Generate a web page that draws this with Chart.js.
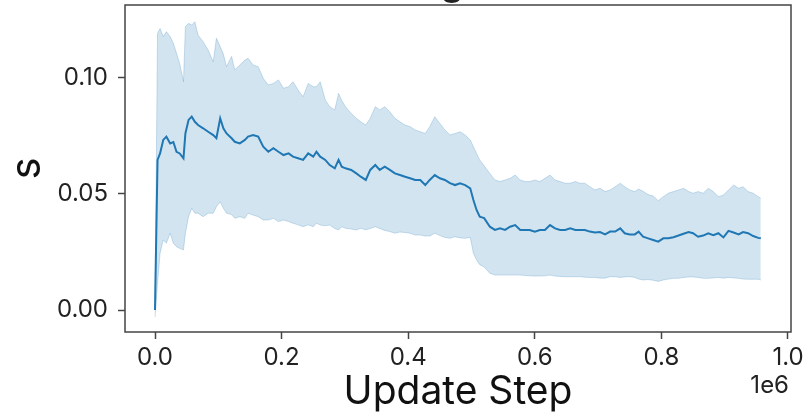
<!DOCTYPE html>
<html>
<head>
<meta charset="utf-8">
<script src="https://cdn.jsdelivr.net/npm/chart.js@4/dist/chart.umd.min.js"></script>
<style>
  html, body { margin: 0; padding: 0; background: #fff; }
  canvas { display: block; }
</style>
</head>
<body>
<canvas id="chart" width="809" height="418"></canvas>
<script>
// update steps (x) and the curves
const steps = [0, 4000, 8000, 13000, 18000, 24000, 29000, 34000, 39000, 45000,
  48000, 53000, 58000, 63000, 68000, 76000, 84000, 92000, 97000, 103000,
  108000, 113000, 121000, 126000, 134000, 142000, 147000, 155000, 163000, 171000,
  179000, 187000, 195000, 203000, 211000, 218000, 226000, 234000, 242000, 250000,
  255000, 261000, 269000, 276000, 284000, 290000, 295000, 301000, 310000, 318000,
  325000, 333000, 340000, 348000, 355000, 363000, 371000, 379000, 387000, 395000,
  403000, 411000, 419000, 427000, 434000, 442000, 450000, 458000, 466000, 474000,
  482000, 490000, 498000, 503000, 508000, 513000, 520000, 529000, 537000, 545000,
  553000, 561000, 569000, 577000, 585000, 592000, 600000, 608000, 616000, 624000,
  632000, 640000, 648000, 656000, 664000, 671000, 679000, 687000, 695000, 703000,
  711000, 719000, 727000, 735000, 742000, 750000, 758000, 764000, 771000, 779000,
  787000, 795000, 803000, 811000, 819000, 827000, 835000, 843000, 850000, 858000,
  866000, 874000, 882000, 890000, 898000, 906000, 914000, 922000, 929000, 937000,
  945000, 953000, 957000];

const meanS = [0.000, 0.0645, 0.0673, 0.0731, 0.0745, 0.0716, 0.0722, 0.0680, 0.0673, 0.0652,
  0.0759, 0.0817, 0.0831, 0.0809, 0.0795, 0.0781, 0.0766, 0.0752, 0.0738, 0.0824,
  0.0781, 0.0759, 0.0738, 0.0723, 0.0716, 0.0731, 0.0745, 0.0752, 0.0745, 0.0702,
  0.0680, 0.0695, 0.0680, 0.0666, 0.0673, 0.0659, 0.0652, 0.0645, 0.0673, 0.0659,
  0.0680, 0.0659, 0.0645, 0.0623, 0.0609, 0.0645, 0.0616, 0.0609, 0.0602, 0.0587,
  0.0573, 0.0559, 0.0602, 0.0623, 0.0602, 0.0616, 0.0602, 0.0587, 0.0580, 0.0573,
  0.0566, 0.0559, 0.0559, 0.0537, 0.0559, 0.0580, 0.0566, 0.0559, 0.0545, 0.0537,
  0.0545, 0.0537, 0.0523, 0.0473, 0.0430, 0.0401, 0.0395, 0.0358, 0.0344, 0.0351,
  0.0344, 0.0358, 0.0365, 0.0344, 0.0344, 0.0344, 0.0337, 0.0344, 0.0344, 0.0365,
  0.0351, 0.0344, 0.0344, 0.0351, 0.0344, 0.0344, 0.0344, 0.0337, 0.0333, 0.0335,
  0.0325, 0.0337, 0.0337, 0.0351, 0.0330, 0.0325, 0.0325, 0.0337, 0.0315, 0.0308,
  0.0301, 0.0294, 0.0308, 0.0308, 0.0313, 0.0320, 0.0328, 0.0335, 0.0330, 0.0315,
  0.0320, 0.0330, 0.0322, 0.0330, 0.0312, 0.0340, 0.0333, 0.0325, 0.0335, 0.0330,
  0.0318, 0.0310, 0.0308];

const upperS = [0.003, 0.1190, 0.1210, 0.1175, 0.1196, 0.1175, 0.1146, 0.1103, 0.1060, 0.0981,
  0.1218, 0.1232, 0.1225, 0.1239, 0.1182, 0.1153, 0.1117, 0.1067, 0.1168, 0.1132,
  0.1100, 0.1046, 0.1090, 0.1032, 0.1053, 0.1074, 0.1082, 0.1053, 0.1046, 0.0996,
  0.0967, 0.0974, 0.0989, 0.0953, 0.0960, 0.0981, 0.0946, 0.0917, 0.0974, 0.0960,
  0.0960, 0.0981, 0.0903, 0.0874, 0.0860, 0.0931, 0.0900, 0.0874, 0.0845, 0.0824,
  0.0809, 0.0795, 0.0824, 0.0874, 0.0860, 0.0874, 0.0852, 0.0824, 0.0809, 0.0795,
  0.0788, 0.0774, 0.0766, 0.0759, 0.0788, 0.0831, 0.0802, 0.0774, 0.0752, 0.0759,
  0.0766, 0.0752, 0.0731, 0.0702, 0.0673, 0.0645, 0.0620, 0.0587, 0.0559, 0.0552,
  0.0559, 0.0566, 0.0580, 0.0559, 0.0552, 0.0552, 0.0559, 0.0552, 0.0566, 0.0580,
  0.0559, 0.0552, 0.0545, 0.0545, 0.0552, 0.0545, 0.0545, 0.0530, 0.0516, 0.0523,
  0.0509, 0.0516, 0.0530, 0.0545, 0.0530, 0.0516, 0.0509, 0.0520, 0.0510, 0.0496,
  0.0490, 0.0470, 0.0487, 0.0502, 0.0509, 0.0516, 0.0523, 0.0509, 0.0502, 0.0509,
  0.0502, 0.0523, 0.0509, 0.0487, 0.0494, 0.0516, 0.0537, 0.0523, 0.0530, 0.0509,
  0.0502, 0.0487, 0.0480];

const lowerS = [-0.003, 0.0115, 0.0244, 0.0301, 0.0287, 0.0330, 0.0287, 0.0272, 0.0265, 0.0258,
  0.0330, 0.0401, 0.0437, 0.0416, 0.0416, 0.0401, 0.0416, 0.0416, 0.0444, 0.0465,
  0.0437, 0.0416, 0.0410, 0.0394, 0.0401, 0.0394, 0.0416, 0.0408, 0.0401, 0.0387,
  0.0387, 0.0394, 0.0380, 0.0387, 0.0380, 0.0373, 0.0366, 0.0358, 0.0366, 0.0358,
  0.0373, 0.0365, 0.0362, 0.0365, 0.0350, 0.0344, 0.0358, 0.0351, 0.0348, 0.0344,
  0.0351, 0.0345, 0.0350, 0.0358, 0.0350, 0.0342, 0.0337, 0.0330, 0.0335, 0.0333,
  0.0330, 0.0322, 0.0322, 0.0318, 0.0318, 0.0330, 0.0320, 0.0312, 0.0308, 0.0315,
  0.0310, 0.0308, 0.0312, 0.0244, 0.0215, 0.0195, 0.0185, 0.0158, 0.0150, 0.0150,
  0.0150, 0.0150, 0.0150, 0.0150, 0.0148, 0.0147, 0.0146, 0.0146, 0.0147, 0.0150,
  0.0146, 0.0144, 0.0143, 0.0143, 0.0143, 0.0143, 0.0141, 0.0140, 0.0140, 0.0137,
  0.0137, 0.0143, 0.0143, 0.0140, 0.0142, 0.0143, 0.0140, 0.0133, 0.0129, 0.0131,
  0.0128, 0.0123, 0.0129, 0.0133, 0.0136, 0.0136, 0.0140, 0.0142, 0.0142, 0.0140,
  0.0136, 0.0136, 0.0138, 0.0140, 0.0137, 0.0140, 0.0138, 0.0136, 0.0133, 0.0132,
  0.0132, 0.0132, 0.0129];

const xTicks = [0, 200000, 400000, 600000, 800000, 1000000];
const yTicks = [0, 0.05, 0.10];

const FONT = 'Inter, "Noto Sans", sans-serif';
const AXIS = '#444';
const BLUE = '#1f77b4';

function toPoints(vals) {
    return steps.map((s, i) => ({ x: s, y: vals[i] }));
}

// box around the axes + offset text + clipped title
const framePlugin = {
    id: 'frame',
    afterDraw(chart) {
        const { ctx, chartArea: a } = chart;
        ctx.save();
        ctx.strokeStyle = AXIS;
        ctx.lineWidth = 1.5;
        ctx.strokeRect(a.left, a.top, a.right - a.left, a.bottom - a.top);
        ctx.fillStyle = '#222';
        ctx.font = '24px ' + FONT;
        ctx.textAlign = 'right';
        ctx.textBaseline = 'alphabetic';
        ctx.fillText('1e6', 789, 393);
        // only the descender of the title's "g" is inside the picture
        ctx.font = '39px ' + FONT;
        ctx.textAlign = 'center';
        ctx.fillText('g', 452, -5);
        ctx.restore();
    }
};

new Chart(document.getElementById('chart'), {
    type: 'line',
    data: {
        datasets: [
            {
                label: 'mean',
                data: toPoints(meanS),
                borderColor: BLUE,
                borderWidth: 2,
                pointRadius: 0,
                fill: false
            },
            {
                label: 'lower',
                data: toPoints(lowerS),
                borderColor: 'rgba(31,119,180,0.22)',
                borderWidth: 1,
                pointRadius: 0,
                fill: false
            },
            {
                label: 'upper',
                data: toPoints(upperS),
                borderColor: 'rgba(31,119,180,0.22)',
                borderWidth: 1,
                pointRadius: 0,
                backgroundColor: 'rgba(31,119,180,0.2)',
                fill: '-1'
            }
        ]
    },
    options: {
        responsive: false,
        animation: false,
        layout: { padding: { top: 5, right: 18, left: 0, bottom: 0 } },
        plugins: {
            legend: { display: false },
            tooltip: { enabled: false }
        },
        scales: {
            x: {
                type: 'linear',
                min: -47400,
                max: 1004740,
                afterFit(scale) {
                    scale.height = 86;
                    scale.paddingLeft = 0;
                    scale.paddingRight = 0;
                },
                afterBuildTicks(scale) { scale.ticks = xTicks.map(v => ({ value: v })); },
                grid: { drawOnChartArea: false, drawTicks: true, tickLength: 7, tickWidth: 1.5, tickColor: AXIS },
                border: { display: false },
                ticks: {
                    padding: 4,
                    color: '#222',
                    font: { family: FONT, size: 24 },
                    maxRotation: 0,
                    callback: v => (v / 1e6).toFixed(1)
                },
                title: {
                    display: true,
                    text: 'Update Step',
                    color: '#111',
                    font: { family: FONT, size: 39 },
                    padding: { top: 0, bottom: 2 }
                }
            },
            y: {
                type: 'linear',
                min: -0.009455,
                max: 0.13109,
                afterFit(scale) {
                    scale.width = 125;
                    scale.paddingTop = 0;
                    scale.paddingBottom = 0;
                },
                afterBuildTicks(scale) { scale.ticks = yTicks.map(v => ({ value: v })); },
                grid: { drawOnChartArea: false, drawTicks: true, tickLength: 7, tickWidth: 1.5, tickColor: AXIS },
                border: { display: false },
                ticks: {
                    padding: 10,
                    color: '#222',
                    font: { family: FONT, size: 24 },
                    callback: v => v.toFixed(2)
                },
                title: {
                    display: true,
                    text: 's',
                    color: '#111',
                    font: { family: FONT, size: 42 },
                    padding: { top: 2, bottom: 0 }
                }
            }
        }
    },
    plugins: [framePlugin]
});
</script>
</body>
</html>
